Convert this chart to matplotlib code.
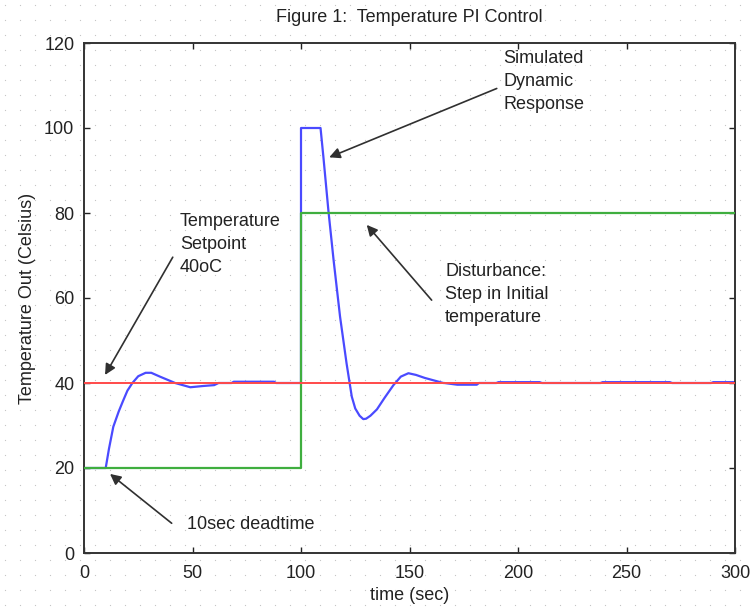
import matplotlib
matplotlib.use("Agg")
import matplotlib.pyplot as plt
import numpy as np

plt.rcParams['font.family'] = ['Liberation Sans', 'DejaVu Sans']

# ---- data ----
t_resp = [0, 10, 11.5, 13.5, 16, 18, 20, 22.3, 25, 28.4, 31, 35, 42, 49, 55, 60, 62, 68,
          69, 87.6, 88.5, 100, 100, 109, 110.3, 112.6, 115, 118, 121, 123.4, 125,
          127, 128.7, 130, 132, 135, 138.5, 142.6, 146, 149.5, 153, 157, 165.6, 166,
          172, 181, 182, 190, 191, 210, 211, 238, 239, 270, 271, 289, 290, 300]
y_resp = [20, 20, 24.5, 29.7, 33.3, 35.8, 38.2, 40, 41.6, 42.4, 42.4, 41.5, 40, 39, 39.3,
          39.5, 40, 40, 40.3, 40.3, 40, 40, 100, 100, 93.3, 80.7, 69, 55.6, 44.6,
          36.8, 34, 32.3, 31.5, 31.6, 32.3, 33.8, 36.5, 39.5, 41.5, 42.3, 41.9, 41.2,
          40, 40, 39.6, 39.6, 40, 40, 40.2, 40.2, 40, 40, 40.2, 40.2, 40, 40, 40.2,
          40.2]
t_dist = [0, 100, 100, 300]
y_dist = [20, 20, 80, 80]
t_set = [0, 300]
y_set = [40, 40]

x_ticks = [0, 50, 100, 150, 200, 250, 300]
y_ticks = [0, 20, 40, 60, 80, 100, 120]

title = "Figure 1:  Temperature PI Control"
xlabel = "time (sec)"
ylabel = "Temperature Out (Celsius)"

W, H = 754, 607
fig = plt.figure(figsize=(W / 100, H / 100), dpi=100)

# faint dotted paper background
bg = fig.add_axes([0, 0, 1, 1], zorder=-5)
bg.set_xlim(0, W)
bg.set_ylim(H, 0)
bg.axis('off')
gx, gy = np.meshgrid(np.arange(5, W, 15), np.arange(5, H, 15))
bg.scatter(gx.ravel(), gy.ravel(), s=0.8, c='#c4c4c4', linewidths=0)

L, R, T, B = 84, 735, 43, 553
ax = fig.add_axes([L / W, 1 - B / H, (R - L) / W, (B - T) / H])
ax.set_facecolor('none')

lw = 1.6
ax.plot(t_resp, y_resp, color='#4a4aff', lw=lw, zorder=2)
ax.plot(t_dist, y_dist, color='#3fae3f', lw=lw, zorder=3)
ax.plot(t_set, y_set, color='#ff4a4a', lw=1.4, zorder=4)

ax.set_xlim(0, 300)
ax.set_ylim(0, 120)
ax.set_xticks(x_ticks)
ax.set_yticks(y_ticks)
ax.tick_params(direction='in', length=4, width=1, top=True, right=True,
               labelsize=13, colors='#222222', pad=7)
ax.tick_params(axis='x', pad=9)
for s in ax.spines.values():
    s.set_color('#333333')
    s.set_linewidth(1.4)

fig.text((L + R) / 2 / W, 1 - 18 / H, title, ha='center', va='center',
         fontsize=13, color='#222222')
fig.text((L + R) / 2 / W, 1 - 596 / H, xlabel, ha='center', va='center',
         fontsize=13, color='#222222')
fig.text(28 / W, 1 - 298 / H, ylabel, ha='center', va='center', rotation=90,
         fontsize=13, color='#222222')

aprops = dict(arrowstyle='-|>', color='#303030', lw=1.2, mutation_scale=16,
              shrinkA=0, shrinkB=0)
tkw = dict(fontsize=13, color='#222222', ha='left', va='top', linespacing=1.45)

# Simulated dynamic response
ax.text(193.1, 118.3, "Simulated\nDynamic\nResponse", **tkw)
ax.annotate('', xy=(113.0, 93.1), xytext=(190.2, 109.3), arrowprops=aprops)
# Setpoint
ax.text(44.2, 79.9, "Temperature\nSetpoint\n40oC", **tkw)
ax.annotate('', xy=(9.7, 41.9), xytext=(40.9, 69.6), arrowprops=aprops)
# Disturbance
ax.text(166.4, 68.2, "Disturbance:\nStep in Initial\ntemperature", **tkw)
ax.annotate('', xy=(130.3, 77.2), xytext=(160.2, 59.5), arrowprops=aprops)
# deadtime
ax.text(47.3, 6.6, "10sec deadtime", fontsize=13, color='#222222',
        ha='left', va='center')
ax.annotate('', xy=(12.0, 18.6), xytext=(40.4, 7.0), arrowprops=aprops)

fig.savefig('out.png', dpi=100)
